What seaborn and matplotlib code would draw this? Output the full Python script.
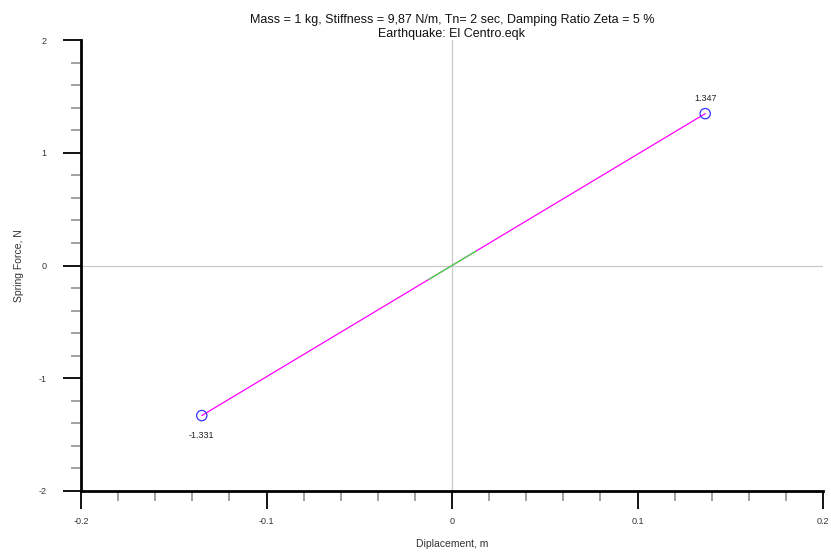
import matplotlib
matplotlib.use("Agg")
import matplotlib.pyplot as plt
import seaborn as sns
import pandas as pd
from matplotlib.ticker import MultipleLocator

# Response trace: displacement (m) and spring force (N)
trace_disp = [-0.1349, 0.1365]
trace_force = [-1.331, 1.347]
# Early part of the response (first cycles, small amplitude)
early_disp = [-0.0125, 0.0130]
early_force = [-0.123, 0.128]
# Peak values
peak_disp = [-0.1349, 0.1365]
peak_force = [-1.331, 1.347]
peak_labels = ["-1.331", "1.347"]

sns.set_style("white")
plt.rcParams["font.family"] = ["Liberation Sans", "DejaVu Sans"]

fig = plt.figure(figsize=(8.31, 5.55), dpi=100)
ax = fig.add_axes([81 / 831, 64 / 555, 742 / 831, 451 / 555])

ax.axhline(0, color="#c8c8c8", lw=0.9, zorder=0)
ax.axvline(0, color="#c8c8c8", lw=0.9, zorder=0)

trace = pd.DataFrame({"d": trace_disp, "f": trace_force})
early = pd.DataFrame({"d": early_disp, "f": early_force})
peaks = pd.DataFrame({"d": peak_disp, "f": peak_force})

sns.lineplot(data=trace, x="d", y="f", ax=ax, color="#ff00ff", lw=0.9, sort=False)
sns.lineplot(data=early, x="d", y="f", ax=ax, color="#33ee33", lw=0.9, sort=False)
sns.scatterplot(data=peaks, x="d", y="f", ax=ax, s=55, facecolor="none",
                edgecolor="#3333ff", linewidth=0.9, zorder=5)

for d, f, txt in zip(peak_disp, peak_force, peak_labels):
    off = 11 if f > 0 else -14
    ax.annotate(txt, (d, f), xytext=(0, off), textcoords="offset points",
                ha="center", va="center", fontsize=6.5, color="#222222")

ax.set_xlim(-0.2, 0.2)
ax.set_ylim(-2, 2)
ax.xaxis.set_minor_locator(MultipleLocator(0.02))
ax.yaxis.set_minor_locator(MultipleLocator(0.2))
ax.set_xticks([-0.2, -0.1, 0, 0.1, 0.2])
ax.set_xticklabels(["-0.2", "-0.1", "0", "0.1", "0.2"])
ax.set_yticks([-2, -1, 0, 1, 2])
ax.set_yticklabels(["-2", "-1", "0", "1", "2"])

ax.tick_params(axis="both", which="major", direction="out", length=13,
               width=1.3, color="black", labelsize=6.5, labelcolor="#333333")
ax.tick_params(axis="x", which="major", pad=6)
ax.tick_params(axis="y", which="major", pad=12)
ax.tick_params(axis="both", which="minor", direction="out", length=7,
               width=1.1, color="#888888")
ax.tick_params(left=True, bottom=True, which="both")

sns.despine(ax=ax, top=True, right=True)
for side in ("left", "bottom"):
    ax.spines[side].set_linewidth(2)
    ax.spines[side].set_color("black")

ax.set_xlabel("Diplacement, m", fontsize=7.5, color="#333333", labelpad=9)
ax.set_ylabel("Spring Force, N", fontsize=7.5, color="#333333", labelpad=10)
ax.set_title("Mass = 1 kg, Stiffness = 9,87 N/m, Tn= 2 sec, Damping Ratio Zeta = 5 %\n"
             "Earthquake: El Centro.eqk", fontsize=9, color="#111111",
             linespacing=1.2, pad=2.5)

fig.savefig("out.png", dpi=100, facecolor="white")
